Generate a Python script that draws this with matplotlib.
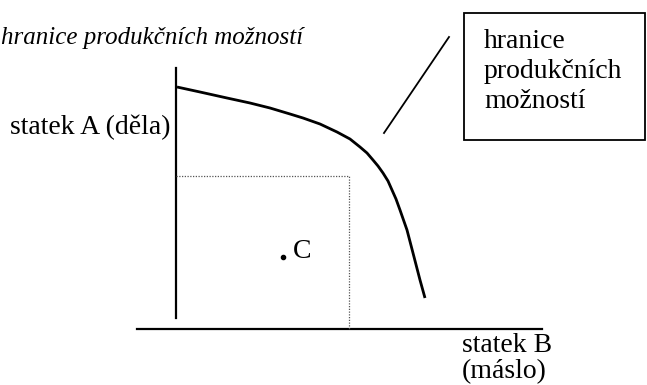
import matplotlib.pyplot as plt
from matplotlib.patches import Rectangle

# diagram coordinates in image pixels (y grows downward)
frontier_x = [177, 200, 227, 250, 270, 290, 303, 320, 337, 350, 360, 367, 373, 378, 383, 388, 392, 396, 400, 407, 413, 420, 425]
frontier_y = [87, 92, 98, 103, 108, 114, 118, 124, 132, 139, 147, 153, 160, 166, 173, 181, 190, 199, 210, 230, 253, 280, 298]

axis_origin = (176, 329)
y_axis_top = 68
y_axis_bottom = 318
x_axis_left = 137
x_axis_right = 542

dotted_corner = (349, 176)
point_c = (283, 257)

callout_box = (464, 13, 181, 127)
pointer_x = [384, 449]
pointer_y = [133, 37]

title_text = "hranice produkčních možností"
box_lines = ["hranice", "produkčních", "možností"]
label_a = "statek A (děla)"
label_b = ["statek B", "(máslo)"]

W, H = 647, 385
fig = plt.figure(figsize=(W / 100, H / 100), dpi=100)
ax = fig.add_axes([0, 0, 1, 1])
ax.set_xlim(0, W)
ax.set_ylim(H, 0)
ax.axis("off")

serif = ["Liberation Serif", "DejaVu Serif"]
fs = 20

# axes
ax.plot([axis_origin[0], axis_origin[0]], [y_axis_top, y_axis_bottom], color="black", lw=1.6)
ax.plot([x_axis_left, x_axis_right], [axis_origin[1], axis_origin[1]], color="black", lw=1.6)

# frontier
ax.plot(frontier_x, frontier_y, color="black", lw=2.0,
        solid_capstyle="butt", solid_joinstyle="round")

# dotted rectangle
ax.plot([axis_origin[0], dotted_corner[0], dotted_corner[0]],
        [dotted_corner[1], dotted_corner[1], axis_origin[1]],
        color="#555555", lw=0.9, ls=(0, (1, 1.2)))

# point C
ax.plot(point_c[0], point_c[1], "o", color="black", ms=3)
ax.text(point_c[0] + 10, point_c[1] - 5, "C", fontsize=fs, family=serif, va="center", ha="left")

# callout
ax.add_patch(Rectangle((callout_box[0], callout_box[1]), callout_box[2], callout_box[3],
                       fill=False, edgecolor="black", lw=1.3))
ax.plot(pointer_x, pointer_y, color="black", lw=1.3)
for i, line in enumerate(box_lines):
    ax.text(484, 41 + i * 30, line, fontsize=fs, family=serif, va="center", ha="left")

# labels
ax.text(1, 38, title_text, fontsize=18, family=serif, style="italic", va="center", ha="left")
ax.text(10, 127, label_a, fontsize=fs, family=serif, va="center", ha="left")
for i, line in enumerate(label_b):
    ax.text(462, 346 + i * 26, line, fontsize=fs, family=serif, va="center", ha="left")

fig.savefig("out.png", dpi=100)
